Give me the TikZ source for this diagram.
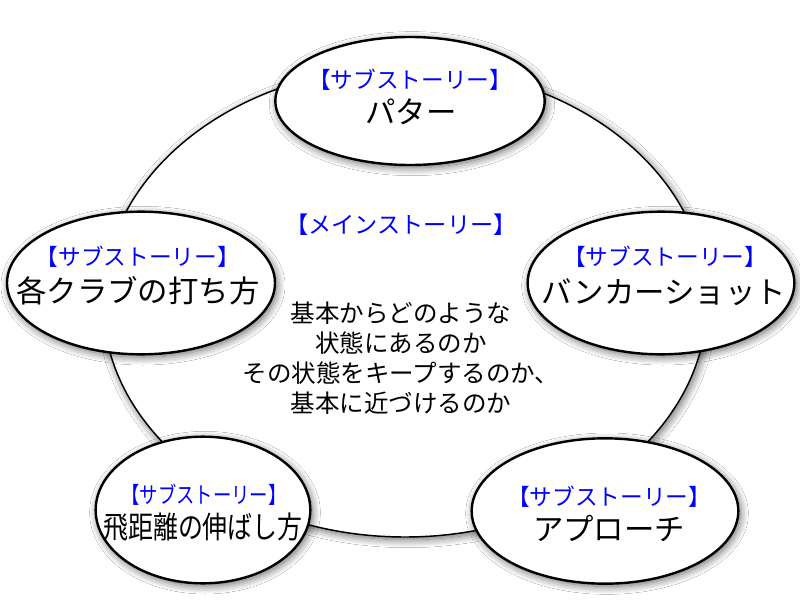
\documentclass[tikz,border=0pt]{standalone}
\usepackage{fontspec}
\setmainfont{Noto Sans CJK JP}
\usetikzlibrary{shapes.geometric,shadows.blur}
\definecolor{subblue}{RGB}{0,0,255}
\tikzset{
  softshadow/.style={blur shadow={shadow xshift=1.5pt, shadow yshift=-2pt, shadow blur radius=6pt, shadow blur steps=12, shadow opacity=60}},
  bigoval/.style={ellipse, draw=black, line width=1.1pt, fill=white, inner sep=0pt, softshadow},
  suboval/.style={ellipse, draw=black, line width=1.8pt, fill=white, inner sep=0pt, softshadow},
  bluetxt/.style={text=subblue, font=\fontsize{17}{20}\selectfont, inner sep=0pt},
  blacktxt/.style={text=black, font=\fontsize{22.8}{27}\selectfont, inner sep=0pt},
  bodytxt/.style={text=black, font=\fontsize{18.4}{22.5}\selectfont, align=center, inner sep=0pt},
}
\begin{document}
\begin{tikzpicture}[x=0.75pt,y=-0.75pt]
\fill[white] (0,0) rectangle (800,600);
\useasboundingbox (0,0) rectangle (800,600);
% main oval
\node[bigoval, minimum width=453pt, minimum height=352.5pt] (main) at (405,302) {};
\node[bluetxt, font=\fontsize{17.4}{20}\selectfont] (maintitle) at (401,225) {【メインストーリー】};
\node[bodytxt] (maintext) at (401,358) {基本からどのような\\状態にあるのか\\その状態をキープするのか、\\基本に近づけるのか};
% sub ovals
\node[suboval, minimum width=202pt, minimum height=96pt] (putt) at (410,101) {};
\node[bluetxt] (putta) at (410,80) {【サブストーリー】};
\node[blacktxt] (puttb) at (411,112) {パター};

\node[suboval, minimum width=201pt, minimum height=107pt] (club) at (141,283) {};
\node[bluetxt] (cluba) at (138,257) {【サブストーリー】};
\node[blacktxt] (clubb) at (138,291) {各クラブの打ち方};

\node[suboval, minimum width=200pt, minimum height=107pt] (bunker) at (661,283) {};
\node[bluetxt] (bunkera) at (665,257) {【サブストーリー】};
\node[blacktxt] (bunkerb) at (664,292) {バンカーショット};

\node[suboval, minimum width=161pt, minimum height=110pt] (drive) at (203,510) {};
\node[bluetxt] (drivea) at (204,495) {\scalebox{0.81}[1]{【サブストーリー】}};
\node[blacktxt] (driveb) at (203,527) {\scalebox{0.82}[1]{飛距離の伸ばし方}};

\node[suboval, minimum width=200pt, minimum height=109pt] (appr) at (605,511) {};
\node[bluetxt] (appra) at (609,497) {【サブストーリー】};
\node[blacktxt] (apprb) at (609,528) {アプローチ};
\end{tikzpicture}
\end{document}
